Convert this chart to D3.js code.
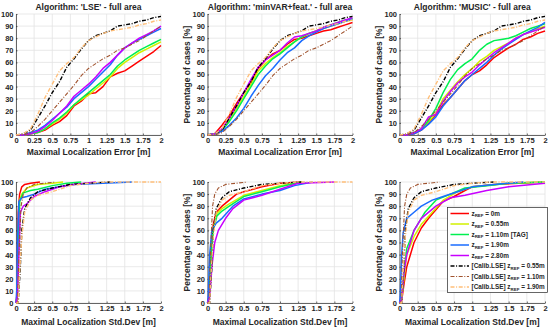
<!DOCTYPE html>
<html><head><meta charset="utf-8">
<script src="https://cdn.jsdelivr.net/npm/d3@7"></script>
<style>
body{margin:0;background:#fff}
text{font-family:"Liberation Sans",Arial,sans-serif;font-weight:bold;fill:#262626}
</style>
</head><body>
<svg id="c" width="550" height="329"></svg>
<script>
// ---------------- DATA ----------------
const seriesLabels = ["0m","0.55m","1.10m [TAG]","1.90m","2.80m","0.55m","1.10m","1.90m"];
const seriesPrefix = ["","","","","","[Calib.LSE] ","[Calib.LSE] ","[Calib.LSE] "];
const seriesColors = ["#ff0000","#d2f000","#00f050","#1a6cff","#c800ff","#000000","#a0522d","#ffbe78"];
const titles = ["Algorithm: 'LSE' - full area","Algorithm: 'minVAR+feat.' - full area","Algorithm: 'MUSIC' - full area"];
const xLabels = ["Maximal Localization Error [m]","Maximal Localization Std.Dev [m]"];
const yLabel = "Percentage of cases [%]";
const xTicks = [0,0.25,0.5,0.75,1,1.25,1.5,1.75,2];
const xTickLabels = ["0","0.25","0.5","0.75","1","1.25","1.5","1.75","2"];
const yTicks = [0,10,20,30,40,50,60,70,80,90,100];

// error CDFs (top row), sampled at errX
const errX = [0,0.1,0.2,0.3,0.4,0.5,0.6,0.7,0.8,0.9,1.0,1.1,1.2,1.3,1.4,1.5,1.6,1.7,1.8,1.9,2.0];
const calibErrBlack  = [0,1,4,14,24,35,44,56,63,71,78,82,84,86,90,91,92,94,95,97,98];
const calibErrBrown  = [0,0,2,7,13,20,27,34,41,49,55,59,63,66,70,72,75,78,82,86,90];
const calibErrOrange = [0,1,5,17,31,42,53,59,64,72,78,81,84,86,87,88,89,91,92,94,95];

const lseErr = [
  [0,0,1,2,4,8,11,16,24,28,34,35,40,48,51,53,57,61,65,69,74],
  [0,0,1,2,5,9,13,18,25,29,33,38,43,48,55,60,64,68,71,74,77],
  [0,0,1,2,5,10,14,19,25,30,35,40,45,50,57,62,66,70,73,76,79],
  [0,0,2,4,8,13,18,23,30,35,40,46,52,58,66,72,76,79,82,85,88],
  [0,0,1,3,7,12,18,24,32,37,42,48,55,60,66,72,76,80,83,86,90]
];
const minvarErr = [
  [0,1,8,16,26,35,44,55,62,67,70,75,79,80,82,84,86,87,89,91,93],
  [0,1,4,12,22,32,42,53,59,64,68,73,77,81,84,86,88,90,92,94,95],
  [0,1,4,11,20,30,40,50,57,63,67,72,77,81,84,86,89,91,93,95,96],
  [0,1,3,8,14,22,32,41,49,55,62,68,72,78,82,85,88,90,92,94,96],
  [0,1,5,14,24,35,46,56,62,66,70,76,81,82,84,86,89,91,93,95,97]
];
const musicErr = [
  [0,0,1,4,10,17,25,31,38,45,50,53,58,64,68,72,75,79,81,84,86],
  [0,0,2,5,11,18,30,37,44,50,55,61,65,70,73,76,80,83,85,88,90],
  [0,0,2,5,12,22,35,46,54,59,63,70,75,78,79,80,82,85,88,90,92],
  [0,0,1,4,9,15,24,31,38,45,50,55,60,66,71,75,79,83,86,89,93],
  [0,0,2,5,15,17,28,36,43,48,52,58,63,68,72,76,80,83,85,87,89]
];

// std-dev CDFs (bottom row), [x, percent] pairs
const calibStdBlack  = [[0,0],[0.03,0],[0.06,30],[0.08,60],[0.12,78],[0.2,87],[0.3,92],[0.5,95],[0.75,98],[1,99],[1.3,100]];
const calibStdBrown  = [[0,0],[0.02,0],[0.04,40],[0.07,80],[0.1,90],[0.15,95],[0.25,98],[0.4,99],[0.55,100]];
const calibStdOrange = [[0,0],[0.03,0],[0.05,25],[0.08,55],[0.12,75],[0.2,85],[0.3,89],[0.5,92],[0.75,97],[1,99],[1.25,100],[2,100]];

const lseStd = [
  [[0,0],[0.01,5],[0.02,40],[0.03,75],[0.05,90],[0.08,96],[0.12,98],[0.2,99],[0.33,100]],
  [[0,0],[0.015,5],[0.03,50],[0.05,85],[0.08,90],[0.15,95],[0.3,98],[0.5,99],[0.65,100]],
  [[0,0],[0.015,5],[0.03,50],[0.05,84],[0.1,91],[0.2,93],[0.3,94],[0.5,97],[0.7,99],[0.9,100]],
  [[0,0],[0.01,10],[0.02,50],[0.04,84],[0.08,87],[0.15,88],[0.25,90],[0.4,94],[0.6,96],[0.8,98],[1.2,99],[1.6,100]],
  [[0,0],[0.02,5],[0.04,40],[0.06,75],[0.1,80],[0.15,82],[0.25,88],[0.4,92],[0.6,96],[0.8,98],[1.1,100]]
];
const minvarStd = [
  [[0,0],[0.02,5],[0.05,45],[0.08,65],[0.12,75],[0.2,80],[0.3,85],[0.4,90],[0.5,92],[0.75,96],[1,99],[1.3,100]],
  [[0,0],[0.02,5],[0.05,40],[0.08,62],[0.13,74],[0.2,78],[0.3,82],[0.5,89],[0.75,93],[1,97],[1.3,100]],
  [[0,0],[0.02,5],[0.05,40],[0.08,60],[0.13,72],[0.2,76],[0.3,80],[0.5,88],[0.75,92],[1,96],[1.3,100]],
  [[0,0],[0.01,5],[0.03,40],[0.06,60],[0.12,66],[0.2,70],[0.35,80],[0.5,86],[0.75,90],[1,93],[1.2,97],[1.45,100]],
  [[0,0],[0.03,5],[0.06,30],[0.1,50],[0.15,60],[0.25,70],[0.35,78],[0.5,85],[0.75,89],[1,94],[1.25,99],[1.75,100]]
];
const musicStd = [
  [[0,0],[0.03,2],[0.06,15],[0.1,30],[0.2,50],[0.3,62],[0.4,70],[0.5,77],[0.6,84],[0.75,88],[0.9,93],[1,96],[1.3,98],[2,100]],
  [[0,0],[0.03,3],[0.06,20],[0.1,40],[0.2,55],[0.3,65],[0.45,75],[0.6,85],[0.8,92],[1,96],[1.5,99],[2,100]],
  [[0,0],[0.03,3],[0.06,25],[0.1,45],[0.2,60],[0.3,70],[0.35,75],[0.5,85],[0.7,90],[0.9,95],[1.2,97],[1.5,99],[2,100]],
  [[0,0],[0.01,5],[0.03,40],[0.05,58],[0.1,70],[0.2,75],[0.3,80],[0.45,85],[0.6,88],[0.8,92],[1,96],[1.3,98],[1.7,100]],
  [[0,0],[0.03,3],[0.06,25],[0.1,40],[0.2,60],[0.3,70],[0.5,80],[0.7,87],[0.9,89],[1.2,93],[1.5,96],[2,99]]
];

// ---------------- LAYOUT ----------------
const cols = [[16,161],[207.5,352.5],[399.5,545]];
const rows = [[14,135],[182,303]];
const dashStyles = [null,null,null,null,null,"4,1.6,1,1.6","4,1.6,1,1.6","4,1.6,1,1.6"];
const widths = [1.5,1.5,1.5,1.5,1.5,1.4,1.1,1.4];

const svg = d3.select("#c");

function toPairs(ys){ return ys.map((y,i)=>[errX[i],y]); }

const topSets = [lseErr, minvarErr, musicErr].map(s => s.map(toPairs).concat([toPairs(calibErrBlack),toPairs(calibErrBrown),toPairs(calibErrOrange)]));
const botSets = [lseStd, minvarStd, musicStd].map(s => s.concat([calibStdBlack,calibStdBrown,calibStdOrange]));

let clipId = 0;
function panel(ci, ri, sets){
  const [x0,x1] = cols[ci], [y0,y1] = rows[ri];
  const x = d3.scaleLinear().domain([0,2]).range([x0,x1]);
  const y = d3.scaleLinear().domain([0,100]).range([y1,y0]);
  const g = svg.append("g");
  g.selectAll(".gx").data(xTicks).join("line")
    .attr("x1",d=>x(d)).attr("x2",d=>x(d)).attr("y1",y0).attr("y2",y1)
    .attr("stroke","#e3e3e3").attr("stroke-width",0.8);
  g.selectAll(".gy").data(yTicks).join("line")
    .attr("x1",x0).attr("x2",x1).attr("y1",d=>y(d)).attr("y2",d=>y(d))
    .attr("stroke","#e3e3e3").attr("stroke-width",0.8);
  const ax = d3.axisBottom(x).tickValues(xTicks).tickFormat((d,i)=>xTickLabels[i]).tickSizeInner(-1.5).tickSizeOuter(0).tickPadding(3);
  const ay = d3.axisLeft(y).tickValues(yTicks).tickSizeInner(-1.5).tickSizeOuter(0).tickPadding(2.5);
  const gx = g.append("g").attr("transform",`translate(0,${y1})`).call(ax);
  const gy = g.append("g").attr("transform",`translate(${x0},0)`).call(ay);
  [gx,gy].forEach(a=>{
    a.selectAll("path,line").attr("stroke","#262626").attr("stroke-width",0.7);
    a.selectAll("text").attr("font-size","7.5px").attr("fill","#262626")
      .style("font-family","'Liberation Sans',Arial,sans-serif").style("font-weight","bold");
  });
  const id = "clip"+(clipId++);
  svg.append("clipPath").attr("id",id).append("rect").attr("x",x0-1).attr("y",y0-2).attr("width",x1-x0+2).attr("height",y1-y0+3);
  const line = d3.line().x(d=>x(d[0])).y(d=>y(d[1]));
  const lg = g.append("g").attr("clip-path",`url(#${id})`);
  sets.forEach((pts,i)=>{
    lg.append("path").attr("d",line(pts)).attr("fill","none")
      .attr("stroke",seriesColors[i]).attr("stroke-width",widths[i])
      .attr("stroke-dasharray",dashStyles[i]).attr("stroke-linejoin","round");
  });
  g.append("text").attr("x",(x0+x1)/2).attr("y",ri===0?155:324.5).attr("text-anchor","middle")
    .attr("font-size","8.5px").text(xLabels[ri]);
  if(ci>0){
    g.append("text").attr("transform",`translate(${ci===1?190:381.5},${(y0+y1)/2}) rotate(-90)`)
      .attr("text-anchor","middle").attr("font-size","8.5px").text(yLabel);
  }
  if(ri===0){
    g.append("text").attr("x",(x0+x1)/2).attr("y",9.5).attr("text-anchor","middle")
      .attr("font-size","8.5px").text(titles[ci]);
  }
}

topSets.forEach((s,i)=>panel(i,0,s));
botSets.forEach((s,i)=>panel(i,1,s));

// legend
const lgX = 447.5, lgY = 207.5, lgW = 100, lgH = 85;
const leg = svg.append("g");
leg.append("rect").attr("x",lgX).attr("y",lgY).attr("width",lgW).attr("height",lgH)
  .attr("fill","#fff").attr("stroke","#262626").attr("stroke-width",0.7);
seriesLabels.forEach((lab,i)=>{
  const cy = lgY + 6 + i*10.5;
  leg.append("line").attr("x1",lgX+3).attr("x2",lgX+21.5).attr("y1",cy).attr("y2",cy)
    .attr("stroke",seriesColors[i]).attr("stroke-width",widths[i]).attr("stroke-dasharray",dashStyles[i]);
  const t = leg.append("text").attr("x",lgX+24).attr("y",cy+2.2).attr("font-size","6.4px");
  t.append("tspan").text(seriesPrefix[i]+"z");
  t.append("tspan").attr("font-size","4.4px").attr("dy",1.6).text("REF");
  t.append("tspan").attr("dy",-1.6).text(" = "+lab);
  const avail = lgX + lgW - 1.5 - (lgX+24);
  const w = t.node().getComputedTextLength();
  if (w > avail) t.attr("textLength",avail).attr("lengthAdjust","spacingAndGlyphs");
});
</script>
</body></html>
